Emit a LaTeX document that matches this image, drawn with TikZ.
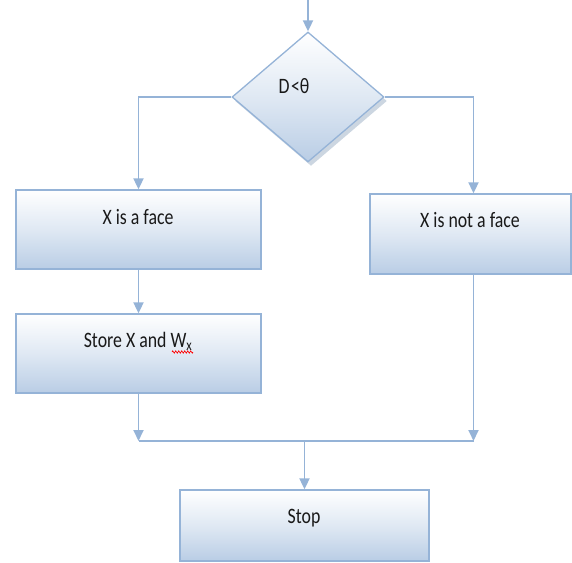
\documentclass[tikz,border=0pt]{standalone}
\usepackage{fontspec}
\setmainfont{Carlito}
\usetikzlibrary{shapes.geometric,arrows.meta,shadows,decorations.pathmorphing}
\definecolor{edge}{RGB}{149,179,215}
\definecolor{fillbot}{RGB}{185,205,229}
\tikzset{
  flowbox/.style={draw=edge, line width=1.3pt, rectangle, inner sep=0pt,
    top color=white, bottom color=fillbot, middle color=white!55!fillbot},
  decision/.style={draw=edge, line width=1.3pt, diamond, inner sep=0pt,
    minimum width=152pt, minimum height=130pt,
    top color=white, bottom color=fillbot, middle color=white!55!fillbot,
    drop shadow={shadow xshift=3pt, shadow yshift=-4pt, opacity=.45, fill=edge!70!gray}},
  txt/.style={anchor=base, inner sep=0pt, text=black!90, font=\fontsize{22}{25}\selectfont},
  conn/.style={draw=edge, line width=1.8pt},
  arr/.style={conn, -{Triangle[width=10pt,length=11pt]}}
}
\newcommand{\sq}[1]{\scalebox{0.81}[1]{#1}}
\begin{document}
\begin{tikzpicture}[x=1pt,y=-1pt]
\useasboundingbox (0,0) rectangle (572,562);

% decision
\node[decision] (d) at (308,97) {};
\node[txt] (dt) at (294,93) {\sq{D\kern2pt<θ}};

% boxes
\node[flowbox, minimum width=245pt, minimum height=79pt] (b1) at (138.5,229.5) {};
\node[txt] (t1) at (138,224) {\sq{X is a face}};
\node[flowbox, minimum width=245pt, minimum height=79pt] (b2) at (138.5,353.5) {};
\node[txt] (t2) at (138,347) {\sq{Store X and W\textsubscript{x}}};
\node[flowbox, minimum width=201pt, minimum height=80pt] (b3) at (470.5,234) {};
\node[txt] (t3) at (470,227) {\sq{X is not a face}};
\node[flowbox, minimum width=249pt, minimum height=71pt] (b4) at (304.5,525.5) {};
\node[txt] (t4) at (304,523) {\sq{Stop}};

% spell-check squiggle under the subscript
\draw[red, line width=0.6pt, decorate, decoration={zigzag, segment length=3pt, amplitude=1.2pt}]
  (172,352) -- (193,352);

% connectors
\coordinate (top) at (308,0);
\coordinate (m) at (304.5,441);
\draw[arr] (top) -- (d.north);
\draw[arr] (d.west) -| (b1.north);
\draw[arr] (d.east) -| ([xshift=3pt]b3.north);
\draw[arr] (b1.south) -- (b2.north);
\draw[conn] (b2.south |- m) -- ([xshift=3pt]b3.south |- m);
\draw[arr] (b2.south) -- (b2.south |- m);
\draw[arr] ([xshift=3pt]b3.south) -- ([xshift=3pt]b3.south |- m);
\draw[arr] (m) -- (b4.north);
\end{tikzpicture}
\end{document}
